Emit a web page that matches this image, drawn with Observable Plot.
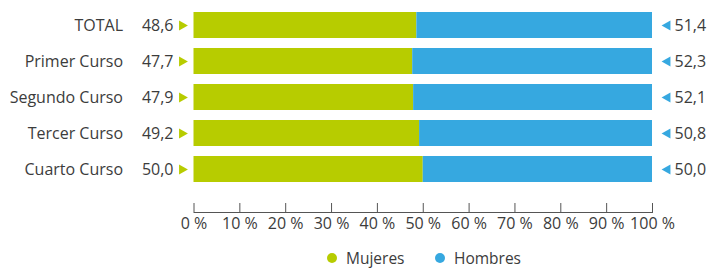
<!DOCTYPE html>
<html>
<head>
<meta charset="utf-8">
<script src="https://cdn.jsdelivr.net/npm/d3@7"></script>
<script src="https://cdn.jsdelivr.net/npm/@observablehq/plot@0.6"></script>
<style>
  html, body { margin: 0; padding: 0; background: #fff; }
  body { width: 708px; height: 270px; overflow: hidden; font-family: "Open Sans", Lato, sans-serif; }
  #legend { position: relative; height: 18px; margin-top: 9px; font-size: 15.5px; line-height: 18px; color: #3c3c3c; }
  .item { position: absolute; top: 0; display: flex; align-items: center; height: 18px; }
  .sw { width: 10px; height: 10px; border-radius: 50%; display: inline-block; margin-right: 9px; }
</style>
</head>
<body>
<div id="chart"></div>
<div id="legend"></div>
<script>
const categories = ["TOTAL", "Primer Curso", "Segundo Curso", "Tercer Curso", "Cuarto Curso"];
const series = ["Mujeres", "Hombres"];
const mujeres = [48.6, 47.7, 47.9, 49.2, 50.0];
const hombres = [51.4, 52.3, 52.1, 50.8, 50.0];
const xTicks = [0, 10, 20, 30, 40, 50, 60, 70, 80, 90, 100];
const colors = ["#b7cc00", "#36a8e0"];

const fmt = v => v.toFixed(1).replace(".", ",");
const data = [];
categories.forEach((c, i) => {
  data.push({curso: c, sexo: "Mujeres", value: mujeres[i]});
  data.push({curso: c, sexo: "Hombres", value: hombres[i]});
});
const left = categories.map((c, i) => ({curso: c, value: mujeres[i]}));
const right = categories.map((c, i) => ({curso: c, value: hombres[i]}));

const W = 708, H = 240, mL = 193.5, mR = 56, mB = 28;
const textColor = "#3c3c3c";
const fs = 16;

const chart = Plot.plot({
  width: W, height: H,
  marginLeft: mL, marginRight: mR, marginTop: 0, marginBottom: mB,
  style: {fontFamily: "'Open Sans', Lato, sans-serif", fontSize: fs + "px", color: textColor, overflow: "visible"},
  x: {domain: [0, 100]},
  y: {domain: categories, padding: 0.29, insetBottom: 18.5},
  color: {domain: series, range: colors},
  marks: [
    Plot.barX(data, {x: "value", y: "curso", fill: "sexo"}),
    Plot.axisY({tickSize: 0, tickPadding: 71, fontSize: fs, fill: textColor, label: null}),
    Plot.axisX(xTicks, {tickSize: 0, tickPadding: 5, fontSize: fs, fill: textColor, label: null, tickFormat: d => d + " %"}),
    Plot.frame({anchor: "bottom", stroke: "#555", strokeWidth: 1}),
    Plot.ruleX(xTicks, {x: d => d, insetTop: (H - mB) - 9, stroke: "#555", strokeWidth: 1}),
    Plot.text(left, {x: 0, y: "curso", text: d => fmt(d.value), textAnchor: "end", dx: -20.5, fontSize: fs, fill: textColor}),
    Plot.dot(left, {x: 0, y: "curso", symbol: "triangle", rotate: 90, r: 3.8, fill: colors[0], dx: -12}),
    Plot.text(right, {x: 100, y: "curso", text: d => fmt(d.value), textAnchor: "start", dx: 22, fontSize: fs, fill: textColor}),
    Plot.dot(right, {x: 100, y: "curso", symbol: "triangle", rotate: -90, r: 3.8, fill: colors[1], dx: 15})
  ]
});
document.getElementById("chart").appendChild(chart);

const legend = document.getElementById("legend");
const legendX = [327, 435];
series.forEach((s, i) => {
  const it = document.createElement("div");
  it.className = "item";
  it.style.left = legendX[i] + "px";
  it.innerHTML = `<span class="sw" style="background:${colors[i]}"></span><span>${s}</span>`;
  legend.appendChild(it);
});
</script>
</body>
</html>
